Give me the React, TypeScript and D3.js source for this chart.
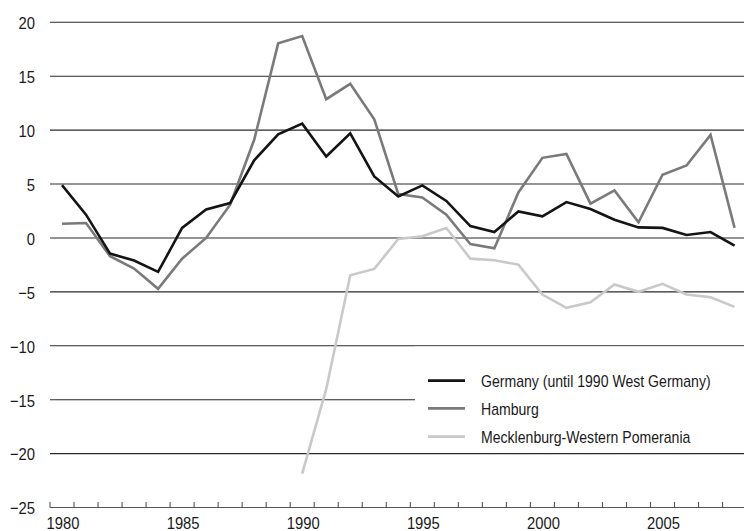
import React, { useEffect } from "react";
import * as d3 from "d3";

const years = d3.range(1980, 2009);
const germany = [4.9, 2.16, -1.45, -2.1, -3.15, 0.93, 2.65, 3.24, 7.2, 9.6, 10.6, 7.55, 9.7, 5.7, 3.85, 4.87, 3.43, 1.1, 0.55, 2.46, 2.0, 3.33, 2.68, 1.69, 0.98, 0.93, 0.28, 0.55, -0.71];
const hamburg = [1.32, 1.39, -1.7, -2.84, -4.72, -1.92, 0.0, 3.08, 9.1, 18.05, 18.73, 12.87, 14.29, 11.0, 4.07, 3.76, 2.16, -0.56, -0.96, 4.22, 7.43, 7.8, 3.18, 4.41, 1.45, 5.86, 6.72, 9.56, 0.93];
const mvYears = d3.range(1990, 2009);
const mecklenburg = [-21.85, -14.0, -3.46, -2.87, -0.1, 0.15, 0.93, -1.92, -2.07, -2.47, -5.25, -6.48, -5.96, -4.32, -5.0, -4.26, -5.25, -5.5, -6.39];
const yTicks = [20, 15, 10, 5, 0, -5, -10, -15, -20, -25];
const xLabels = [1980, 1985, 1990, 1995, 2000, 2005];
const seriesNames = ["Germany (until 1990 West Germany)", "Hamburg", "Mecklenburg-Western Pomerania"];
const seriesColors = ["#141414", "#7a7a7a", "#c9c9c9"];

const W = 744;
const H = 531;
const FONT = "'Liberation Sans', Arial, Helvetica, sans-serif";

export default function App() {
  useEffect(() => {
    document.body.style.margin = "0";
  }, []);

  const x = d3.scaleLinear().domain([1980, 2009]).range([50, 50 + 29 * 24.02]);
  const y = d3.scaleLinear().domain([-25, 20]).range([507.5, 22.3]);

  const line = d3
    .line<[number, number]>()
    .x((d) => x(d[0] + 0.5))
    .y((d) => y(d[1]));

  const series: [number, number][][] = [
    years.map((yr, i) => [yr, germany[i]] as [number, number]),
    years.map((yr, i) => [yr, hamburg[i]] as [number, number]),
    mvYears.map((yr, i) => [yr, mecklenburg[i]] as [number, number]),
  ];

  const tickYears = d3.range(1980, 2010);
  const legendX = 415;
  const legendTop = y(-10) + 0.8;
  const legendBottom = y(-20) - 0.8;
  const legendRows = [380.7, 408.3, 436.7];

  return (
    <svg width={W} height={H} style={{ display: "block", background: "#fff" }} fontFamily={FONT}>
      {/* gridlines */}
      {yTicks
        .filter((t) => t > -25)
        .map((t) => (
          <line key={"g" + t} x1={50} x2={W} y1={y(t)} y2={y(t)} stroke="#2a2a2a" strokeWidth={1.1} />
        ))}
      {/* y labels */}
      {yTicks.map((t) => (
        <g key={"yl" + t} transform={`translate(35,${y(t) + 1}) scale(0.87,1)`}>
          <text textAnchor="end" dominantBaseline="central" fontSize={17} fill="#1a1a1a">
            {t < 0 ? "\u2212" + Math.abs(t) : String(t)}
          </text>
        </g>
      ))}
      {/* x axis */}
      <line x1={50} x2={W} y1={y(-25)} y2={y(-25)} stroke="#555" strokeWidth={1.1} />
      {tickYears.map((yr) => (
        <line key={"t" + yr} x1={x(yr)} x2={x(yr)} y1={y(-25)} y2={y(-25) - 5.5} stroke="#555" strokeWidth={1.1} />
      ))}
      {xLabels.map((yr) => (
        <g key={"xl" + yr} transform={`translate(${x(yr + 0.5) + 1},529) scale(0.87,1)`}>
          <text textAnchor="middle" fontSize={17} fill="#1a1a1a">
            {yr}
          </text>
        </g>
      ))}
      {/* series */}
      {[1, 2, 0].map((i) => (
        <path
          key={"s" + i}
          d={line(series[i]) || ""}
          fill="none"
          stroke={seriesColors[i]}
          strokeWidth={2.6}
          strokeLinejoin="miter"
        />
      ))}
      {/* legend */}
      <rect x={legendX} y={legendTop} width={W - legendX} height={legendBottom - legendTop} fill="#fff" />
      {seriesNames.map((name, i) => (
        <g key={"lg" + i}>
          <line x1={428} x2={465} y1={legendRows[i]} y2={legendRows[i]} stroke={seriesColors[i]} strokeWidth={2.8} />
          <g transform={`translate(481,${legendRows[i] + 0.5}) scale(0.88,1)`}>
            <text dominantBaseline="central" fontSize={16} fill="#1a1a1a">
              {name}
            </text>
          </g>
        </g>
      ))}
    </svg>
  );
}
